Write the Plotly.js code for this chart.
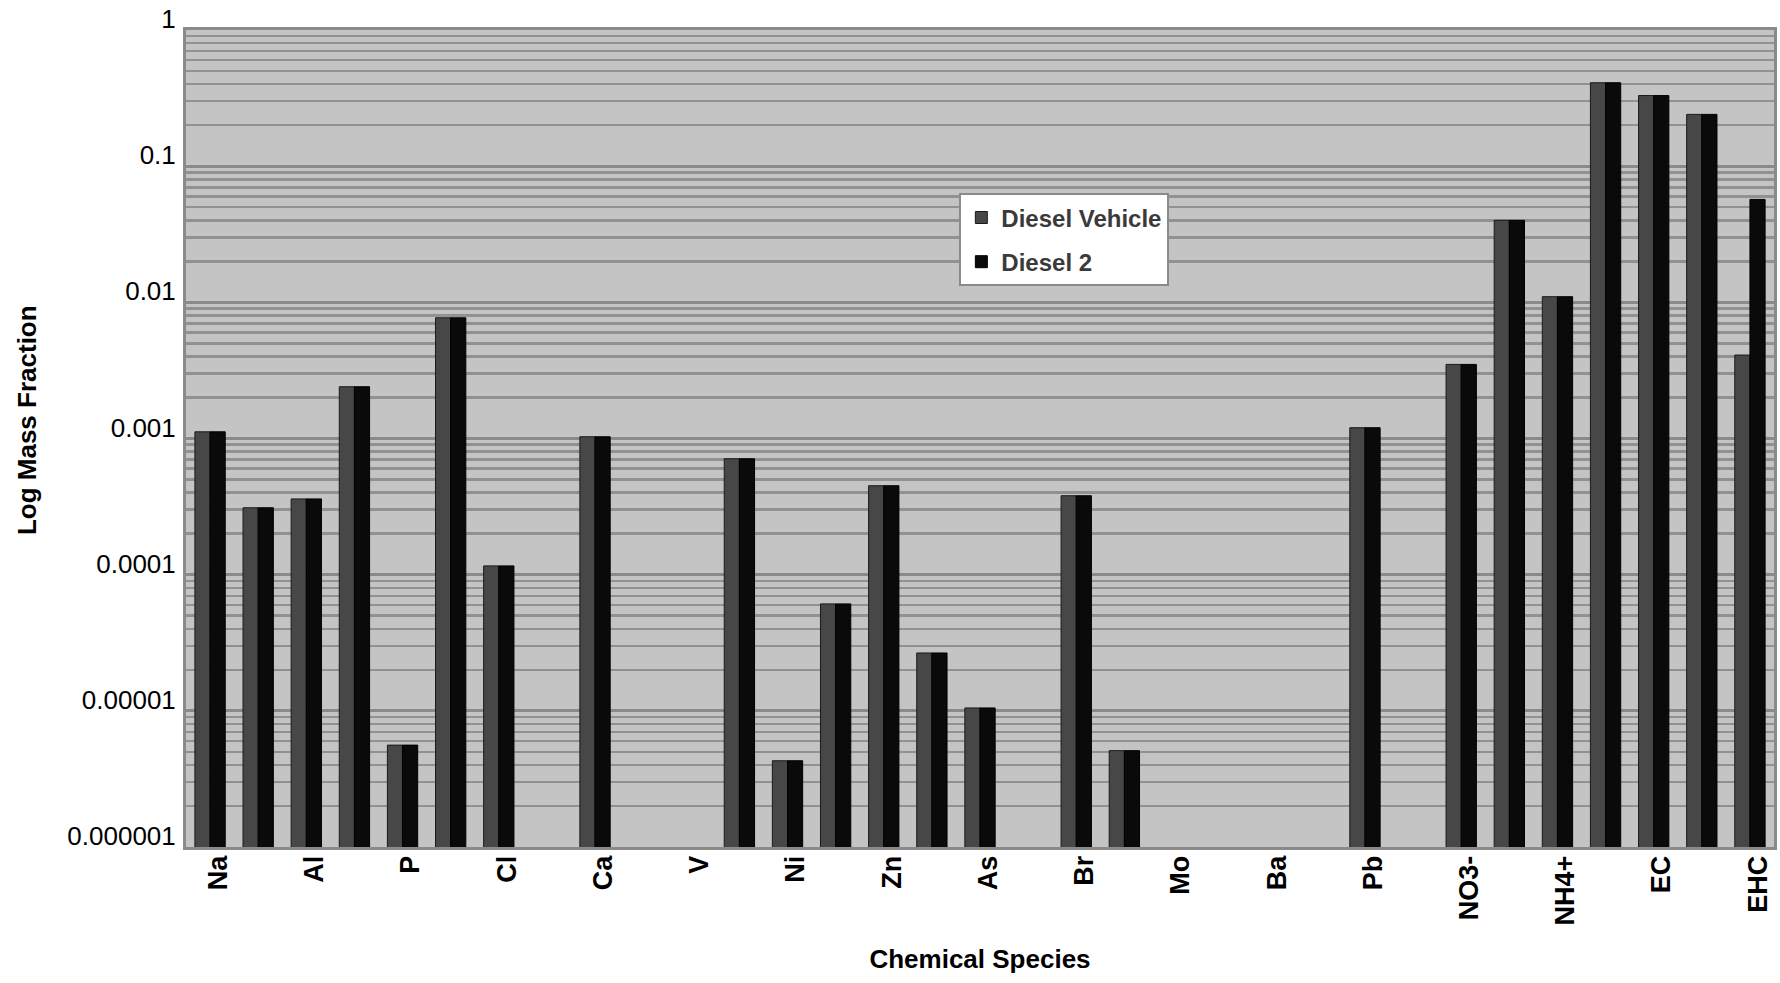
<!DOCTYPE html>
<html>
<head>
<meta charset="utf-8">
<script src="https://cdn.plot.ly/plotly-3.0.1.min.js"></script>
<style>
  html, body { margin: 0; padding: 0; background: #ffffff; }
  #chart { width: 1780px; height: 983px; }
</style>
</head>
<body>
<div id="chart"></div>
<script>
// Chemical species (33 categories; only every second one is labelled on the axis)
var species = ["Na", "Mg", "Al", "Si", "P", "S", "Cl", "K", "Ca", "Ti", "V", "Fe",
  "Ni", "Cu", "Zn", "Ga", "As", "Se", "Br", "Sr", "Mo", "Cd", "Ba", "La", "Pb",
  "Cl-", "NO3-", "SO4=", "NH4+", "OC", "EC", "OHC", "EHC"];

var labelledSpecies = ["Na", "Al", "P", "Cl", "Ca", "V", "Ni", "Zn", "As", "Br",
  "Mo", "Ba", "Pb", "NO3-", "NH4+", "EC", "EHC"];

// Mass fractions (null = no bar)
var dieselVehicle = [0.00112, 0.00031, 0.00036, 0.0024, 0.0000056, 0.0077, 0.000116, null,
  0.00103, null, null, 0.00071, 0.0000043, 0.000061, 0.00045, 0.0000266, 0.0000105, null,
  0.00038, 0.0000051, null, null, null, null, 0.0012, null, 0.0035, 0.040, 0.011,
  0.41, 0.33, 0.24, 0.0041];

var diesel2 = [0.00112, 0.00031, 0.00036, 0.0024, 0.0000056, 0.0077, 0.000116, null,
  0.00103, null, null, 0.00071, 0.0000043, 0.000061, 0.00045, 0.0000266, 0.0000105, null,
  0.00038, 0.0000051, null, null, null, null, 0.0012, null, 0.0035, 0.040, 0.011,
  0.41, 0.33, 0.24, 0.057];

var yTickVals = [1, 0.1, 0.01, 0.001, 0.0001, 0.00001, 0.000001];
var yTickText = ["1", "0.1", "0.01", "0.001", "0.0001", "0.00001", "0.000001"];

var FONT = "Liberation Sans, Arial, sans-serif";

var traces = [
  {
    type: "bar",
    name: "Diesel Vehicle",
    x: species,
    y: dieselVehicle,
    legendgroup: "a",
    marker: { color: "#474747", line: { color: "#1a1a1a", width: 1 } }
  },
  {
    type: "bar",
    name: "Diesel 2",
    x: species,
    y: diesel2,
    legendgroup: "b",
    marker: { color: "#0a0a0a", line: { color: "#000000", width: 1 } }
  }
];

var layout = {
  width: 1780,
  height: 983,
  margin: { l: 186, r: 6, t: 30, b: 136 },
  paper_bgcolor: "#ffffff",
  plot_bgcolor: "#c4c4c4",
  barmode: "group",
  bargap: 0.37,
  bargroupgap: 0,
  font: { family: FONT, color: "#000000" },
  showlegend: true,
  legend: {
    x: 0.487, y: 0.80, xanchor: "left", yanchor: "top",
    bgcolor: "#ffffff",
    bordercolor: "#8a8a8a",
    borderwidth: 2,
    tracegroupgap: 10,
    font: { family: FONT, size: 24, color: "#3a3a3a", weight: "bold" }
  },
  xaxis: {
    type: "category",
    range: [-0.5, species.length - 0.5],
    tickmode: "array",
    tickvals: labelledSpecies,
    ticktext: labelledSpecies,
    tickangle: -90,
    ticks: "",
    ticklabelshift: 8,
    ticklabelstandoff: -5,
    showgrid: false,
    showline: true,
    linecolor: "#8a8a8a",
    linewidth: 3,
    mirror: true,
    tickfont: { family: FONT, size: 27, color: "#000000", weight: "bold" },
    title: {
      text: "Chemical Species",
      standoff: 26,
      font: { family: FONT, size: 26, color: "#000000", weight: "bold" }
    }
  },
  yaxis: {
    type: "log",
    range: [-6, 0],
    tickmode: "array",
    tickvals: yTickVals,
    ticktext: yTickText,
    ticks: "",
    ticklabelshift: -11,
    ticklabelstandoff: 2,
    showgrid: true,
    gridcolor: "#8a8a8a",
    gridwidth: 3,
    minor: { dtick: "D1", showgrid: true, gridcolor: "#919191", gridwidth: 2.5, ticks: "" },
    zeroline: false,
    showline: true,
    linecolor: "#8a8a8a",
    linewidth: 3,
    mirror: true,
    tickfont: { family: FONT, size: 26, color: "#000000" }
  },
  annotations: [
    {
      text: "Log Mass Fraction",
      xref: "paper", yref: "paper",
      x: -0.1001, y: 0.5226,
      xanchor: "center", yanchor: "middle",
      textangle: -90,
      showarrow: false,
      font: { family: FONT, size: 26, color: "#000000", weight: "bold" }
    }
  ]
};

Plotly.newPlot("chart", traces, layout, { displayModeBar: false, staticPlot: true });
</script>
</body>
</html>
